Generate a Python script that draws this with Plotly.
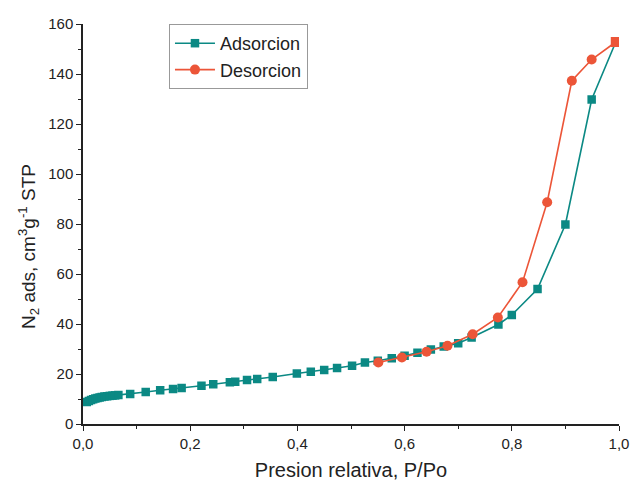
import plotly.graph_objects as go

ads_x = [0.007, 0.011, 0.015, 0.019, 0.023, 0.027, 0.031, 0.035, 0.040, 0.045, 0.050, 0.055, 0.060, 0.066,
         0.088, 0.117, 0.144, 0.168, 0.184, 0.221, 0.243, 0.274, 0.284, 0.306, 0.325, 0.354,
         0.399, 0.425, 0.450, 0.474, 0.502, 0.526, 0.550, 0.576, 0.600, 0.624, 0.649, 0.673,
         0.700, 0.725, 0.775, 0.800, 0.848, 0.900, 0.949, 0.994]
ads_y = [8.8, 9.2, 9.6, 9.9, 10.2, 10.4, 10.6, 10.8, 11.0, 11.1, 11.25, 11.35, 11.45, 11.6,
         12.0, 12.8, 13.5, 14.0, 14.4, 15.3, 15.9, 16.7, 16.9, 17.6, 18.0, 18.8,
         20.2, 20.9, 21.6, 22.4, 23.3, 24.6, 25.3, 26.3, 27.3, 28.5, 29.8, 31.0,
         32.3, 34.6, 39.8, 43.6, 54.0, 79.8, 129.8, 152.8]

des_x = [0.994, 0.949, 0.912, 0.866, 0.820, 0.774, 0.727, 0.680, 0.641, 0.595, 0.551]
des_y = [152.8, 145.8, 137.3, 88.7, 56.7, 42.6, 35.9, 31.3, 28.9, 26.6, 24.6]

x_ticks = [0.0, 0.2, 0.4, 0.6, 0.8, 1.0]
y_ticks = [0, 20, 40, 60, 80, 100, 120, 140, 160]

x_title = "Presion relativa, P/Po"
y_title = "N<sub>2</sub> ads, cm<sup>3</sup>g<sup>-1</sup> STP"

teal = "#0b8984"
red = "#ec5538"

fig = go.Figure()
fig.add_trace(go.Scatter(
    x=ads_x, y=ads_y, mode="lines+markers", name="Adsorcion",
    line=dict(color=teal, width=1.6),
    marker=dict(symbol="square", size=8.5, color=teal),
))
des_symbols = ["square"] + ["circle"] * (len(des_x) - 1)
fig.add_trace(go.Scatter(
    x=des_x, y=des_y, mode="lines+markers", name="Desorcion", showlegend=False,
    line=dict(color=red, width=1.6),
    marker=dict(symbol=des_symbols, size=10, color=red),
))
fig.add_trace(go.Scatter(
    x=[None], y=[None], mode="lines+markers", name="Desorcion",
    line=dict(color=red, width=1.6),
    marker=dict(symbol="circle", size=10, color=red),
))

fig.update_layout(
    width=634, height=485,
    margin=dict(l=83, r=15, t=24, b=61, autoexpand=False),
    paper_bgcolor="white", plot_bgcolor="white",
    separators=",.",
    font=dict(family="Liberation Sans, Arial, sans-serif", color="#222222", size=15),
    showlegend=True,
    legend=dict(
        x=0.1604, y=1.0, xanchor="left", yanchor="top",
        bordercolor="#999999", borderwidth=1, bgcolor="white",
        font=dict(size=18), tracegroupgap=0, itemwidth=40,
    ),
    xaxis=dict(
        range=[0, 1], tickvals=x_ticks, tickformat=".1f", automargin=False,
        showgrid=False, zeroline=False, showline=True, linecolor="#222222", linewidth=1.5,
        ticks="outside", ticklen=5, tickwidth=1.2, tickcolor="#222222",
        minor=dict(dtick=0.1, ticks="outside", ticklen=3, tickwidth=1.2, tickcolor="#222222"),
        title=dict(text=x_title, font=dict(size=20), standoff=12),
        tickfont=dict(size=15),
    ),
    yaxis=dict(
        range=[0, 160], tickvals=y_ticks, automargin=False,
        showgrid=False, zeroline=False, showline=True, linecolor="#222222", linewidth=1.5,
        ticks="outside", ticklen=5, tickwidth=1.2, tickcolor="#222222",
        minor=dict(dtick=10, ticks="outside", ticklen=3, tickwidth=1.2, tickcolor="#222222"),
        tickfont=dict(size=15),
    ),
    annotations=[dict(
        text=y_title, textangle=-90, xref="paper", yref="paper",
        x=-0.1026, y=0.4425, xanchor="center", yanchor="middle",
        showarrow=False, font=dict(size=19, color="#222222"),
    )],
)

fig.write_html("out.html")
